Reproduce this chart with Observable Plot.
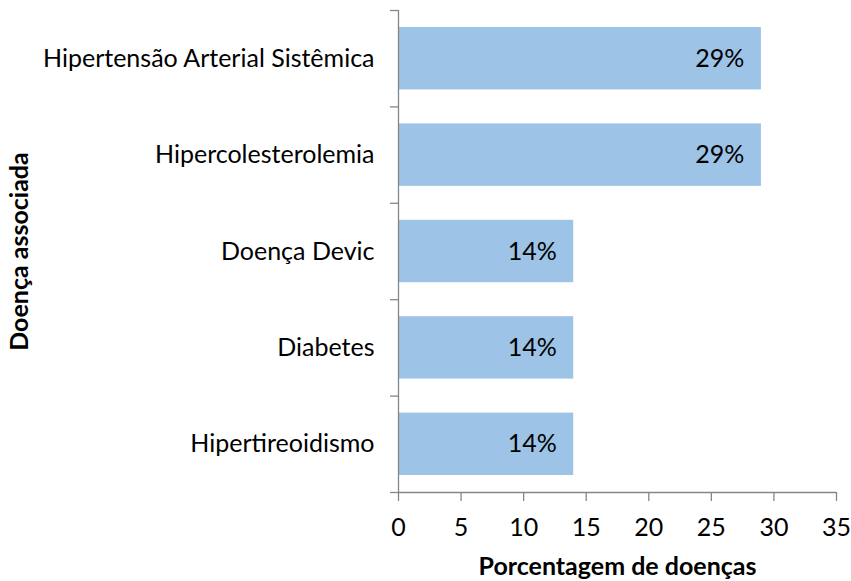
<!DOCTYPE html>
<html>
<head>
<meta charset="utf-8">
<script src="https://cdn.jsdelivr.net/npm/d3@7"></script>
<script src="https://cdn.jsdelivr.net/npm/@observablehq/plot@0.6"></script>
<style>
  html, body { margin: 0; padding: 0; background: #fff; }
</style>
</head>
<body>
<div id="chart"></div>
<script>
const categories = ["Hipertensão Arterial Sistêmica", "Hipercolesterolemia", "Doença Devic", "Diabetes", "Hipertireoidismo"];
const values = [29, 29, 14, 14, 14];
const valueLabels = ["29%", "29%", "14%", "14%", "14%"];
const xTicks = [0, 5, 10, 15, 20, 25, 30, 35];
const xTitle = "Porcentagem de doenças";
const yTitle = "Doença associada";

const data = categories.map((c, i) => ({cat: c, v: values[i], lab: valueLabels[i], i}));
const boundaries = d3.range(categories.length + 1);

const axisColor = "#868686";
const font = "Lato, 'Open Sans', sans-serif";
const fs = 25;

const chart = Plot.plot({
  width: 851,
  height: 581,
  marginLeft: 398,
  marginRight: 15,
  marginTop: 10,
  marginBottom: 89,
  style: {fontFamily: font, fontSize: fs + "px", color: "#000", background: "#fff"},
  x: {type: "linear", domain: [0, 35]},
  y: {type: "linear", domain: [0, categories.length], reverse: true},
  marks: [
    Plot.rectX(data, {x1: 0, x2: "v", y1: d => d.i, y2: d => d.i + 1, insetTop: 17, insetBottom: 17, fill: "#9DC3E6"}),
    Plot.ruleX([0], {stroke: axisColor, strokeWidth: 1.3}),
    Plot.ruleY([categories.length], {stroke: axisColor, strokeWidth: 1.3}),
    Plot.axisY({ticks: boundaries, tickFormat: () => "", tickSize: 8, stroke: axisColor, strokeWidth: 1.3, label: null}),
    Plot.axisX({ticks: xTicks, tickSize: 9, tickPadding: 17, stroke: axisColor, strokeWidth: 1.3, fill: "#000", fontSize: fs, label: null}),
    Plot.text(data, {x: 0, y: d => d.i + 0.5, text: "cat", textAnchor: "end", dx: -24, fontSize: fs, fill: "#000"}),
    Plot.text(data, {x: "v", y: d => d.i + 0.5, text: "lab", textAnchor: "end", dx: -17, fontSize: fs, fill: "#000"}),
    Plot.text([xTitle], {frameAnchor: "bottom", lineAnchor: "middle", textAnchor: "middle", dy: 74, fontWeight: "bold", fontSize: fs, fill: "#000"}),
    Plot.text([yTitle], {frameAnchor: "left", lineAnchor: "middle", textAnchor: "middle", dx: -379, rotate: -90, fontWeight: "bold", fontSize: fs, fill: "#000"})
  ]
});
document.getElementById("chart").appendChild(chart);
</script>
</body>
</html>
